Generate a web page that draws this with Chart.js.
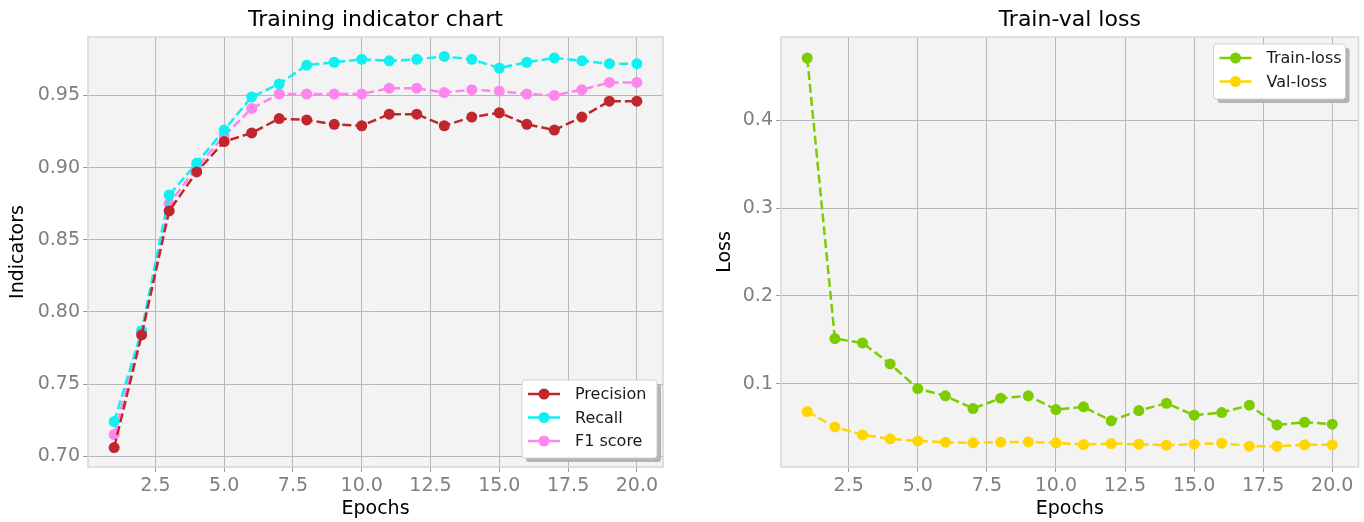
<!DOCTYPE html>
<html lang="en">
<head>
<meta charset="UTF-8">
<title>Training charts</title>
<script src="https://cdn.jsdelivr.net/npm/chart.js@4.4.0/dist/chart.umd.min.js"></script>
<style>
    body { margin: 0; background: #fff; }
    .panel { position: absolute; top: 0; width: 682px; height: 522px; }
</style>
</head>
<body>
<div class="panel" style="left:0"><canvas id="indicatorChart"></canvas></div>
<div class="panel" style="left:682px"><canvas id="lossChart"></canvas></div>
<script>
// data
const epochs = [1, 2, 3, 4, 5, 6, 7, 8, 9, 10, 11, 12, 13, 14, 15, 16, 17, 18, 19, 20];
const precision = [0.706, 0.784, 0.870, 0.897, 0.918, 0.924, 0.934, 0.933, 0.930, 0.929,
                   0.937, 0.937, 0.929, 0.935, 0.938, 0.930, 0.926, 0.935, 0.946, 0.946];
const recall = [0.724, 0.787, 0.881, 0.903, 0.926, 0.949, 0.958, 0.971, 0.973, 0.975,
                0.974, 0.975, 0.977, 0.975, 0.969, 0.973, 0.976, 0.974, 0.972, 0.972];
const f1score = [0.715, 0.786, 0.875, 0.900, 0.922, 0.941, 0.951, 0.951, 0.951, 0.951,
                 0.955, 0.955, 0.952, 0.954, 0.953, 0.951, 0.950, 0.954, 0.959, 0.959];
const trainLoss = [0.4705, 0.1515, 0.1466, 0.1227, 0.0947, 0.0864, 0.0720, 0.0837, 0.0864, 0.0708,
                   0.0739, 0.0580, 0.0697, 0.0780, 0.0644, 0.0674, 0.0758, 0.0534, 0.0564, 0.0542];
const valLoss = [0.0686, 0.0511, 0.0420, 0.0375, 0.0352, 0.0337, 0.0330, 0.0337, 0.0340, 0.0330,
                 0.0310, 0.0322, 0.0314, 0.0303, 0.0314, 0.0326, 0.0292, 0.0292, 0.0307, 0.0307];
const xTicks = [2.5, 5.0, 7.5, 10.0, 12.5, 15.0, 17.5, 20.0];
const indicatorTicks = [0.70, 0.75, 0.80, 0.85, 0.90, 0.95];
const lossTicks = [0.1, 0.2, 0.3, 0.4];

const FONT = "'DejaVu Sans', sans-serif";

// grey plot background + light frame
const framePlugin = {
    id: 'frame',
    beforeDraw(chart) {
        const a = chart.chartArea, ctx = chart.ctx;
        ctx.save();
        ctx.fillStyle = '#f3f3f3';
        ctx.fillRect(a.left, a.top, a.right - a.left, a.bottom - a.top);
        ctx.restore();
    },
    afterDatasetsDraw(chart) {
        const a = chart.chartArea, ctx = chart.ctx;
        ctx.save();
        ctx.strokeStyle = '#d6d6d6';
        ctx.lineWidth = 1.5;
        ctx.strokeRect(a.left, a.top, a.right - a.left, a.bottom - a.top);
        ctx.restore();
    }
};

// title centred over the plot area (the built-in one only keeps the space)
const axesTitle = {
    id: 'axesTitle',
    afterDraw(chart) {
        const a = chart.chartArea, ctx = chart.ctx;
        ctx.save();
        ctx.font = '22px ' + FONT;
        ctx.fillStyle = '#000';
        ctx.textAlign = 'center';
        ctx.textBaseline = 'middle';
        ctx.fillText(chart.options.plugins.title.text, (a.left + a.right) / 2, 20);
        ctx.restore();
    }
};

// matplotlib-like legend box inside the plot
const boxLegend = {
    id: 'boxLegend',
    afterDraw(chart, args, opts) {
        const a = chart.chartArea, ctx = chart.ctx;
        const w = opts.width, h = opts.height;
        const x = a.right - opts.right - w;
        const y = opts.top != null ? a.top + opts.top : a.bottom - opts.bottom - h;
        ctx.save();
        ctx.fillStyle = '#b4b4b4';
        roundRect(ctx, x + 4, y + 4, w, h, 3);
        ctx.fill();
        ctx.fillStyle = '#ffffff';
        ctx.strokeStyle = '#d0d0d0';
        ctx.lineWidth = 1;
        roundRect(ctx, x, y, w, h, 3);
        ctx.fill();
        ctx.stroke();
        ctx.font = '16px ' + FONT;
        ctx.textBaseline = 'middle';
        chart.data.datasets.forEach((ds, i) => {
            const cy = y + 14 + i * 23.5;
            ctx.strokeStyle = ds.borderColor;
            ctx.lineWidth = 2.5;
            ctx.beginPath();
            ctx.moveTo(x + 6, cy);
            ctx.lineTo(x + 38, cy);
            ctx.stroke();
            ctx.fillStyle = ds.borderColor;
            ctx.beginPath();
            ctx.arc(x + 22, cy, 5.5, 0, Math.PI * 2);
            ctx.fill();
            ctx.fillStyle = '#1a1a1a';
            ctx.fillText(ds.label, x + 53, cy + 1);
        });
        ctx.restore();
    }
};

function roundRect(ctx, x, y, w, h, r) {
    ctx.beginPath();
    ctx.moveTo(x + r, y);
    ctx.arcTo(x + w, y, x + w, y + h, r);
    ctx.arcTo(x + w, y + h, x, y + h, r);
    ctx.arcTo(x, y + h, x, y, r);
    ctx.arcTo(x, y, x + w, y, r);
    ctx.closePath();
}

function series(label, data, color) {
    return {
        label: label,
        data: epochs.map((e, i) => ({ x: e, y: data[i] })),
        borderColor: color,
        backgroundColor: color,
        borderWidth: 2.5,
        borderDash: [9, 4],
        pointRadius: 5.5,
        pointHoverRadius: 5.5,
        pointBorderWidth: 0,
        tension: 0
    };
}

function makeOptions(cfg) {
    return {
        responsive: true,
        maintainAspectRatio: false,
        animation: false,
        layout: { padding: { left: 0, right: cfg.padRight, top: 0, bottom: 0 } },
        plugins: {
            legend: { display: false },
            tooltip: { enabled: false },
            title: {
                display: true,
                text: cfg.title,
                color: 'rgba(0,0,0,0)',
                font: { family: FONT, size: 22, weight: 'normal' },
                padding: { top: 7, bottom: 3.6 }
            },
            boxLegend: cfg.legend
        },
        scales: {
            x: {
                type: 'linear',
                min: 0.05,
                max: 20.95,
                afterBuildTicks: s => { s.ticks = xTicks.map(v => ({ value: v })); },
                afterFit: s => { s.height = 55; },
                ticks: {
                    color: '#7f7f7f',
                    font: { family: FONT, size: 19 },
                    padding: 3,
                    maxRotation: 0,
                    callback: v => v.toFixed(1)
                },
                grid: { color: '#b8b8b8', lineWidth: 1, tickLength: 5, tickColor: '#9a9a9a' },
                border: { display: false },
                title: {
                    display: true,
                    text: 'Epochs',
                    color: '#000',
                    font: { family: FONT, size: 19 },
                    padding: { top: 0, bottom: 2 }
                }
            },
            y: {
                type: 'linear',
                min: cfg.yMin,
                max: cfg.yMax,
                afterBuildTicks: s => { s.ticks = cfg.yTicks.map(v => ({ value: v })); },
                afterFit: s => { s.width = cfg.yWidth; },
                ticks: {
                    color: '#7f7f7f',
                    font: { family: FONT, size: 19 },
                    padding: 3,
                    callback: v => v.toFixed(cfg.yDigits)
                },
                grid: { color: '#b8b8b8', lineWidth: 1, tickLength: 5, tickColor: '#9a9a9a' },
                border: { display: false },
                title: {
                    display: true,
                    text: cfg.yTitle,
                    color: '#000',
                    font: { family: FONT, size: 19 },
                    padding: { top: cfg.yTitlePad, bottom: 0 }
                }
            }
        }
    };
}

new Chart(document.getElementById('indicatorChart'), {
    type: 'line',
    data: {
        datasets: [
            series('Precision', precision, '#c0262b'),
            series('Recall', recall, '#0ff0f0'),
            series('F1 score', f1score, '#ff85ee')
        ]
    },
    options: makeOptions({
        title: 'Training indicator chart',
        padRight: 19,
        yMin: 0.6925, yMax: 0.9905,
        yTicks: indicatorTicks, yDigits: 2,
        yWidth: 88, yTitle: 'Indicators', yTitlePad: 7,
        legend: { width: 135, height: 78, right: 6, bottom: 9 }
    }),
    plugins: [framePlugin, axesTitle, boxLegend]
});

new Chart(document.getElementById('lossChart'), {
    type: 'line',
    data: {
        datasets: [
            series('Train-loss', trainLoss, '#7dcc00'),
            series('Val-loss', valLoss, '#ffd600')
        ]
    },
    options: makeOptions({
        title: 'Train-val loss',
        padRight: 2,
        yMin: 0.0055, yMax: 0.4945,
        yTicks: lossTicks, yDigits: 1,
        yWidth: 99, yTitle: 'Loss', yTitlePad: 32,
        legend: { width: 132, height: 55, right: 13, top: 7 }
    }),
    plugins: [framePlugin, axesTitle, boxLegend]
});
</script>
</body>
</html>
